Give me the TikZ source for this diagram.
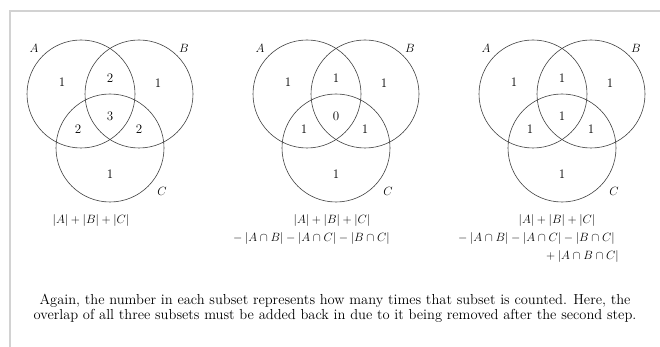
\documentclass[tikz,border=0pt]{standalone}
\usepackage{amsmath}
\begin{document}
\begin{tikzpicture}[x=1pt,y=-1pt,
  vcirc/.style={draw=black!75, line width=0.6pt},
  num/.style={font=\fontsize{13}{15}\selectfont, inner sep=0pt},
  setlbl/.style={font=\fontsize{12}{14}\selectfont, inner sep=0pt},
  capt/.style={font=\fontsize{12.5}{14}\selectfont, inner sep=0pt},
  bodytext/.style={font=\fontsize{14.5}{15}\selectfont, inner sep=0pt},
  framelin/.style={draw=gray!35, line width=1.2pt}]
\useasboundingbox (0,0) rectangle (660,347);
\coordinate (fb) at (10,347);
\coordinate (fc) at (10,11);
\coordinate (fr) at (660,11);
\draw[framelin] (fb) -- (fc) -- (fr);
\foreach \cx/\i/\a/\ab/\b/\abc/\ac/\bc/\c in {110/1/1/2/1/3/2/2/1, 336/2/1/1/1/0/1/1/1, 562/3/1/1/1/1/1/1/1} {
  \draw[vcirc] (\cx-29,94) circle[radius=54];
  \draw[vcirc] (\cx+29,94) circle[radius=54];
  \draw[vcirc] (\cx,148) circle[radius=54];
  \node[setlbl] (lA\i) at (\cx-76,48) {$A$};
  \node[setlbl] (lB\i) at (\cx+74,48) {$B$};
  \node[setlbl] (lC\i) at (\cx+52,191) {$C$};
  \node[num] (nA\i) at (\cx-48,82) {\a};
  \node[num] (nAB\i) at (\cx,78) {\ab};
  \node[num] (nB\i) at (\cx+48,83) {\b};
  \node[num] (nABC\i) at (\cx,116) {\abc};
  \node[num] (nAC\i) at (\cx-32,129) {\ac};
  \node[num] (nBC\i) at (\cx+29,129) {\bc};
  \node[num] (nC\i) at (\cx,174) {\c};
}
\node[capt] (cap1) at (91,220) {$|A|+|B|+|C|$};
\node[capt] (cap2a) at (332,220) {$|A|+|B|+|C|$};
\node[capt] (cap2b) at (310,238) {${}-|A\cap B|-|A\cap C|-|B\cap C|$};
\node[capt] (cap3a) at (557,220) {$|A|+|B|+|C|$};
\node[capt] (cap3b) at (535,238) {${}-|A\cap B|-|A\cap C|-|B\cap C|$};
\node[capt, anchor=east] (cap3c) at (619,256) {${}+|A\cap B\cap C|$};
\node[bodytext] (t1) at (335,301) {Again, the number in each subset represents how many times that subset is counted. Here, the};
\node[bodytext] (t2) at (335,316) {overlap of all three subsets must be added back in due to it being removed after the second step.};
\end{tikzpicture}
\end{document}
